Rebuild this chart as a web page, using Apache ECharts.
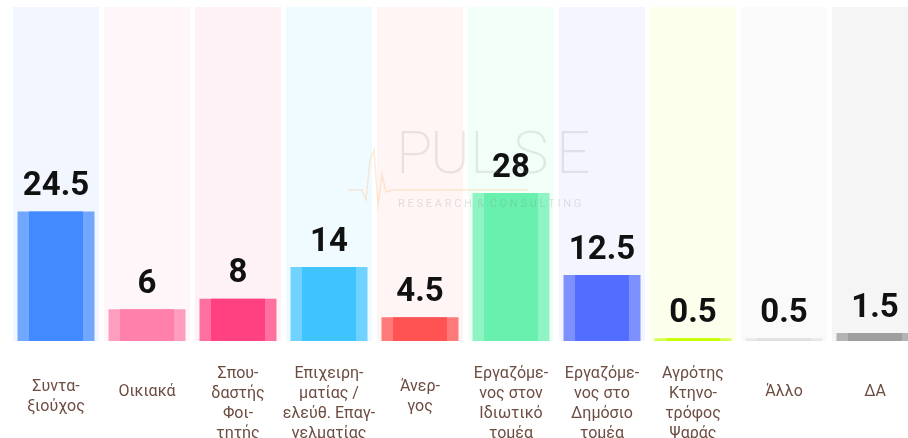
<!DOCTYPE html>
<html>
<head>
<meta charset="utf-8">
<script src="https://cdn.jsdelivr.net/npm/echarts@6/dist/echarts.min.js"></script>
<style>
html,body{margin:0;padding:0;background:#fff;}
#chart{width:908px;height:438px;}
</style>
</head>
<body>
<div id="chart"></div>
<script>
// ---- data ----
const categories = [
  'Συντα-\nξιούχος',
  'Οικιακά',
  'Σπου-\nδαστής\nΦοι-\nτητής',
  'Επιχειρη-\nματίας /\nελεύθ. Επαγ-\nγελματίας',
  'Άνερ-\nγος',
  'Εργαζόμε-\nνος στον\nΙδιωτικό\nτομέα',
  'Εργαζόμε-\nνος στο\nΔημόσιο\nτομέα',
  'Αγρότης\nΚτηνο-\nτρόφος\nΨαράς',
  'Άλλο',
  'ΔΑ'
];
const values = [24.5, 6, 8, 14, 4.5, 28, 12.5, 0.5, 0.5, 1.5];
const yMax = 63.2;

// ---- styles ----
const barColors  = ['#448aff','#ff80ab','#ff4081','#40c4ff','#ff5252','#69f0ae','#536dfe','#c6ff00','#e0e0e0','#9e9e9e'];
const edgeColors = ['#72a7ff','#ff9dbf','#ff70a1','#70d3ff','#ff7b7b','#8ff4c4','#7d91fe','#d5ff4d','#e9e9e9','#b3b3b3'];
const bgColors   = ['#f2f7ff','#fff6f9','#fff2f6','#f0fbff','#fff5f5','#f1fff8','#f4f5ff','#fbffec','#fafafa','#f5f5f5'];

const padByLines = {1: 18, 2: 13, 3: 7, 4: 0};
const axisData = categories.map(c => {
  const n = c.split('\n').length;
  return { value: c, textStyle: { padding: [padByLines[n] || 0, 0, 0, 0] } };
});

const chart = echarts.init(document.getElementById('chart'), null, {renderer: 'canvas'});

const hiddenAxis = () => ({
  type: 'category', data: categories, gridIndex: 0,
  show: false, boundaryGap: true
});

chart.setOption({
  backgroundColor: '#ffffff',
  animation: false,
  grid: { left: 10.5, width: 910, top: 7, bottom: 97, containLabel: false, outerBoundsMode: 'none' },
  xAxis: [
    {
      type: 'category',
      data: axisData,
      axisLine: { show: false },
      axisTick: { show: false },
      axisLabel: {
        interval: 0,
        margin: 23,
        verticalAlign: 'top',
        align: 'center',
        color: '#6d4c41',
        fontFamily: 'Roboto',
        fontSize: 16,
        lineHeight: 20
      }
    },
    hiddenAxis(),
    hiddenAxis()
  ],
  yAxis: { type: 'value', min: 0, max: yMax, show: false },
  series: [
    {
      type: 'bar', xAxisIndex: 0, barWidth: 86, silent: true,
      data: categories.map((c, i) => ({ value: yMax, itemStyle: { color: bgColors[i] } }))
    },
    {
      type: 'bar', xAxisIndex: 1, barWidth: 77,
      data: values.map((v, i) => ({ value: v, itemStyle: { color: edgeColors[i] } }))
    },
    {
      type: 'bar', xAxisIndex: 2, barWidth: 54,
      data: values.map((v, i) => ({ value: v, itemStyle: { color: barColors[i] } })),
      label: {
        show: true, position: 'top', distance: 8,
        color: '#111', fontFamily: 'Roboto', fontWeight: 'bold', fontSize: 33
      }
    }
  ],
  graphic: [
    { type: 'text', left: 396, top: 128, z: 100, style: { text: 'P', font: '200 60px Roboto', fill: 'rgba(120,120,120,0.16)' } },
    { type: 'text', left: 430, top: 128, z: 100, style: { text: 'U', font: '200 60px Roboto', fill: 'rgba(120,120,120,0.16)' } },
    { type: 'text', left: 470, top: 128, z: 100, style: { text: 'L', font: '200 60px Roboto', fill: 'rgba(120,120,120,0.16)' } },
    { type: 'text', left: 513, top: 128, z: 100, style: { text: 'S', font: '200 60px Roboto', fill: 'rgba(120,120,120,0.16)' } },
    { type: 'text', left: 556, top: 128, z: 100, style: { text: 'E', font: '200 60px Roboto', fill: 'rgba(120,120,120,0.16)' } },
    { type: 'text', left: 398, top: 199, z: 100, style: { text: 'R E S E A R C H  &  C O N S U L T I N G', font: '11px Roboto', fill: 'rgba(120,120,120,0.2)' } },
    { type: 'polyline', z: 100, shape: { points: [[348,190],[362,190],[366,200],[370,160],[374,150],[378,205],[382,175],[386,192],[392,190],[528,190]] },
      style: { stroke: 'rgba(255,170,90,0.25)', lineWidth: 1.5, fill: null } }
  ]
});
</script>
</body>
</html>
